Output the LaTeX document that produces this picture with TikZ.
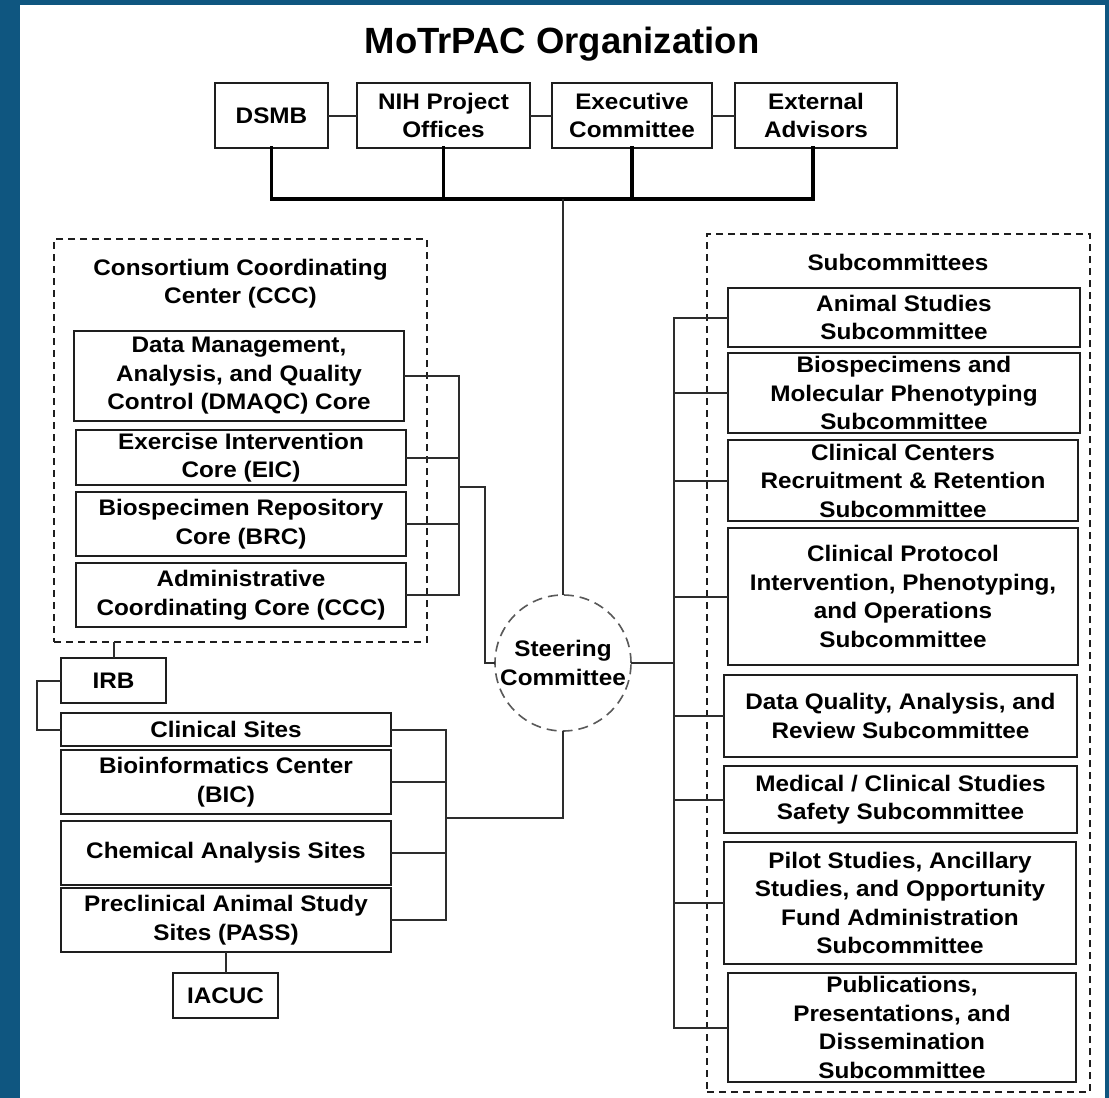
\documentclass[tikz,border=0pt]{standalone}
\usepackage{fontspec}
\setmainfont{Liberation Sans}[FakeStretch=1.08]
\newfontfamily\titlefont{Liberation Sans}
\definecolor{frameblue}{RGB}{15,86,128}
\definecolor{ink}{RGB}{30,30,30}
\definecolor{wire}{RGB}{45,45,45}
\newcommand{\mybox}[6]{\node[cbox, minimum width={#4-#2}, minimum height={#5-#3}] (#1) at ({(#2+#4)/2},{(#3+#5)/2}) {#6};}
\newcommand{\mygroup}[5]{\node[grp, minimum width={#4-#2}, minimum height={#5-#3}] (#1) at ({(#2+#4)/2},{(#3+#5)/2}) {};}
\begin{document}
\begin{tikzpicture}[x=1pt,y=-1pt,
  cbox/.style={draw=ink, line width=2.2pt, inner sep=0pt, outer sep=0pt, align=center,
    font=\fontsize{22.5}{28.5}\selectfont\bfseries},
  grp/.style={draw=ink, line width=1.6pt, dash pattern=on 7pt off 5pt, inner sep=0pt, outer sep=0pt},
  lbl/.style={align=center, inner sep=0pt, font=\fontsize{22.5}{28.5}\selectfont\bfseries},
  conn/.style={draw=wire, line width=2pt, line join=miter},
  bus/.style={draw=black, line width=3.5pt, line join=miter, line cap=rect},
  steerstyle/.style={circle, draw=black!65, line width=1.6pt, dash pattern=on 10pt off 6pt,
    minimum size=136pt, inner sep=0pt, outer sep=0pt, align=center,
    font=\fontsize{22.5}{28.5}\selectfont\bfseries}
]
\useasboundingbox (0,0) rectangle (1109,1098);
\fill[frameblue] (0,0) rectangle (1109,1098);
\fill[white] (20,5) rectangle (1105,1098);

% title
\node[anchor=base, inner sep=0pt, font=\titlefont\fontsize{36.5}{40}\selectfont\bfseries] (title) at (562,53) {MoTrPAC Organization};

% top row
\mybox{dsmb}{215}{83}{328}{148}{DSMB}
\mybox{nih}{357}{83}{530}{148}{NIH Project\\Offices}
\mybox{exec}{552}{83}{712}{148}{Executive\\Committee}
\mybox{ext}{735}{83}{897}{148}{External\\Advisors}
\draw[conn] (dsmb.east) -- (nih.west);
\draw[conn] (nih.east) -- (exec.west);
\draw[conn] (exec.east) -- (ext.west);
\coordinate (busline) at (0,199);
\draw[bus] (dsmb.south) |- ([xshift=-3pt]ext.south |- busline) -- ([xshift=-3pt]ext.south);
\draw[bus] (nih.south) -- (nih.south |- busline);
\draw[bus] (exec.south) -- (exec.south |- busline);

% steering
\node[steerstyle] (steer) at (563,663) {Steering\\Committee};
\draw[conn] (steer.north) -- (steer.north |- busline);

% CCC group
\mygroup{ccc}{54}{239}{427}{642}
\node[lbl] (ccclbl) at (240.5,283.5) {Consortium Coordinating\\Center (CCC)};
\mybox{dmaqc}{74}{331}{404}{421}{Data Management,\\Analysis, and Quality\\Control (DMAQC) Core}
\mybox{eic}{76}{430}{406}{485}{Exercise Intervention\\Core (EIC)}
\mybox{brc}{76}{492}{406}{556}{Biospecimen Repository\\Core (BRC)}
\mybox{acc}{76}{563}{406}{627}{Administrative\\Coordinating Core (CCC)}
\coordinate (cccbr) at (459,0);
\draw[conn] (dmaqc.east) -- (dmaqc.east -| cccbr) -- (acc.east -| cccbr) -- (acc.east);
\draw[conn] (eic.east) -- (eic.east -| cccbr);
\draw[conn] (brc.east) -- (brc.east -| cccbr);
\coordinate (cccout) at (459,487);
\coordinate (cccdown) at (485,487);
\draw[conn] (cccout) -- (cccdown) |- (steer.west);

% IRB and sites
\mybox{irb}{61}{658}{166}{703}{IRB}
\mybox{clin}{61}{713}{391}{746}{Clinical Sites}
\mybox{bic}{61}{750}{391}{814}{Bioinformatics Center\\(BIC)}
\mybox{chem}{61}{821}{391}{885}{Chemical Analysis Sites}
\mybox{pass}{61}{888}{391}{952}{Preclinical Animal Study\\Sites (PASS)}
\mybox{iacuc}{173}{973}{278}{1018}{IACUC}
\draw[conn] (irb.north) -- (irb.north |- ccc.south);
\coordinate (irbl) at (37,680.5);
\draw[conn] (irb.west) -- (irbl) |- (clin.west);
\draw[conn] (iacuc.north) -- (iacuc.north |- pass.south);
\coordinate (sitebr) at (446,0);
\draw[conn] (clin.east) -- (clin.east -| sitebr) -- (pass.east -| sitebr) -- (pass.east);
\draw[conn] (bic.east) -- (bic.east -| sitebr);
\draw[conn] (chem.east) -- (chem.east -| sitebr);
\coordinate (siteout) at (446,818);
\draw[conn] (siteout) -| (steer.south);

% Subcommittees
\mygroup{subs}{707}{234}{1090}{1092}
\node[lbl] (subslbl) at (898,262) {Subcommittees};
\mybox{s1}{728}{288}{1080}{347}{Animal Studies\\Subcommittee}
\mybox{s2}{728}{353}{1080}{433}{Biospecimens and\\Molecular Phenotyping\\Subcommittee}
\mybox{s3}{728}{440}{1078}{521}{Clinical Centers\\Recruitment \& Retention\\Subcommittee}
\mybox{s4}{728}{528}{1078}{665}{Clinical Protocol\\Intervention, Phenotyping,\\and Operations\\Subcommittee}
\mybox{s5}{724}{675}{1077}{757}{Data Quality, Analysis, and\\Review Subcommittee}
\mybox{s6}{724}{766}{1077}{833}{Medical / Clinical Studies\\Safety Subcommittee}
\mybox{s7}{724}{842}{1076}{964}{Pilot Studies, Ancillary\\Studies, and Opportunity\\Fund Administration\\Subcommittee}
\mybox{s8}{728}{973}{1076}{1082}{Publications,\\Presentations, and\\Dissemination\\Subcommittee}
\coordinate (subbr) at (674,0);
\draw[conn] (s1.west) -- (s1.west -| subbr) -- (s8.west -| subbr) -- (s8.west);
\foreach \s in {s2,s3,s4,s5,s6,s7} {\draw[conn] (\s.west) -- (\s.west -| subbr);}
\draw[conn] (steer.east) -- (steer.east -| subbr);
\end{tikzpicture}
\end{document}
